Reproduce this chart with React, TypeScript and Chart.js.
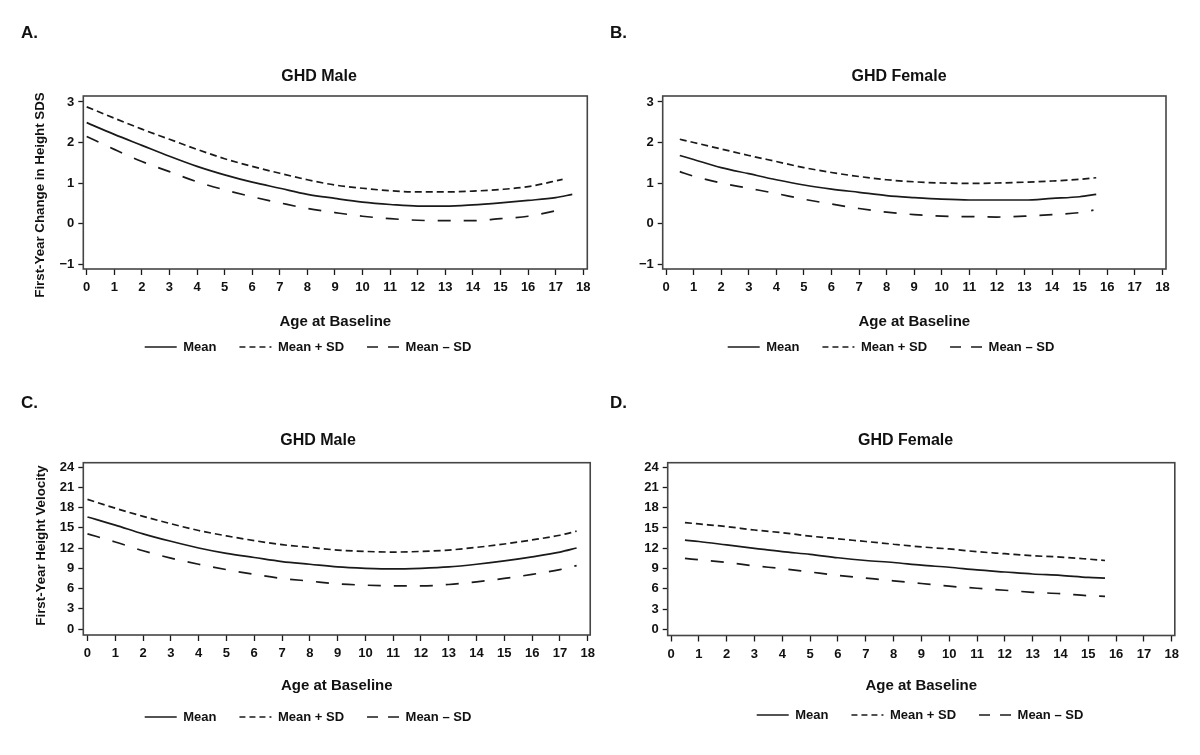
import React, { useEffect, useRef } from "react";
import { Chart, registerables } from "chart.js";

Chart.register(...registerables);

const FONT_FAMILY = '"Liberation Sans", Arial, Helvetica, sans-serif';
const INK = "#1a1a1a";
const TEXT = "#111111";
const FRAME = "#454545";

// ---- shared axis ticks / labels ----
const AGE_TICKS = [0, 1, 2, 3, 4, 5, 6, 7, 8, 9, 10, 11, 12, 13, 14, 15, 16, 17, 18];
const SDS_TICKS = [-1, 0, 1, 2, 3];
const VELOCITY_TICKS = [0, 3, 6, 9, 12, 15, 18, 21, 24];
const SERIES_LABELS = ["Mean", "Mean + SD", "Mean \u2013 SD"];
const X_TITLE = "Age at Baseline";
const Y_TITLE_SDS = "First-Year Change in Height SDS";
const Y_TITLE_VELOCITY = "First-Year Height Velocity";

// ---- A. GHD Male, change in height SDS ----
const A_MEAN_AGE = [0, 1, 2, 3, 4, 5, 6, 7, 8, 9, 10, 11, 12, 13, 14, 15, 16, 17, 17.6];
const A_MEAN = [2.49, 2.2, 1.93, 1.66, 1.41, 1.2, 1.02, 0.87, 0.72, 0.62, 0.53, 0.47, 0.43, 0.43, 0.46, 0.51, 0.57, 0.64, 0.72];
const A_PLUS_AGE = [0, 1, 2, 3, 4, 5, 6, 7, 8, 9, 10, 11, 12, 13, 14, 15, 16, 17.25];
const A_PLUS = [2.88, 2.6, 2.33, 2.08, 1.83, 1.6, 1.41, 1.24, 1.08, 0.95, 0.87, 0.81, 0.78, 0.78, 0.8, 0.84, 0.91, 1.09];
const A_MINUS_AGE = [0, 1, 2, 3, 4, 5, 6, 7, 8, 9, 10, 11, 12, 13, 14, 15, 16, 17.1];
const A_MINUS = [2.15, 1.83, 1.53, 1.28, 1.03, 0.83, 0.66, 0.51, 0.37, 0.27, 0.18, 0.12, 0.08, 0.07, 0.07, 0.12, 0.18, 0.33];

// ---- B. GHD Female, change in height SDS ----
const B_MEAN_AGE = [0.5, 1, 2, 3, 4, 5, 6, 7, 8, 9, 10, 11, 12, 13, 14, 15, 15.6];
const B_MEAN = [1.68, 1.58, 1.38, 1.23, 1.08, 0.95, 0.85, 0.77, 0.69, 0.64, 0.6, 0.58, 0.58, 0.58, 0.62, 0.66, 0.72];
const B_PLUS_AGE = [0.5, 1, 2, 3, 4, 5, 6, 7, 8, 9, 10, 11, 12, 13, 14, 15, 15.6];
const B_PLUS = [2.08, 2.0, 1.84, 1.68, 1.53, 1.38, 1.26, 1.16, 1.08, 1.03, 1.0, 0.99, 1.0, 1.02, 1.05, 1.09, 1.13];
const B_MINUS_AGE = [0.5, 1, 2, 3, 4, 5, 6, 7, 8, 9, 10, 11, 12, 13, 14, 15, 15.5];
const B_MINUS = [1.28, 1.17, 1.0, 0.87, 0.74, 0.6, 0.48, 0.37, 0.28, 0.22, 0.18, 0.17, 0.16, 0.18, 0.22, 0.27, 0.33];

// ---- C. GHD Male, height velocity ----
const C_AGE = [0, 1, 2, 3, 4, 5, 6, 7, 8, 9, 10, 11, 12, 13, 14, 15, 16, 17, 17.6];
const C_MEAN = [16.6, 15.4, 14.1, 13.0, 12.0, 11.2, 10.6, 10.0, 9.6, 9.2, 9.0, 8.9, 9.0, 9.2, 9.6, 10.1, 10.7, 11.4, 12.0];
const C_PLUS = [19.2, 17.9, 16.7, 15.6, 14.6, 13.8, 13.1, 12.5, 12.1, 11.7, 11.5, 11.4, 11.5, 11.7, 12.1, 12.6, 13.2, 13.9, 14.5];
const C_MINUS = [14.1, 12.9, 11.6, 10.5, 9.6, 8.8, 8.1, 7.5, 7.1, 6.7, 6.5, 6.4, 6.4, 6.6, 7.0, 7.5, 8.1, 8.8, 9.4];

// ---- D. GHD Female, height velocity ----
const D_AGE = [0.5, 1, 2, 3, 4, 5, 6, 7, 8, 9, 10, 11, 12, 13, 14, 15, 15.6];
const D_MEAN = [13.2, 13.0, 12.5, 12.0, 11.5, 11.1, 10.6, 10.2, 9.9, 9.5, 9.2, 8.8, 8.5, 8.2, 8.0, 7.7, 7.6];
const D_PLUS = [15.8, 15.6, 15.2, 14.7, 14.3, 13.8, 13.4, 13.0, 12.6, 12.2, 11.9, 11.5, 11.2, 10.9, 10.7, 10.4, 10.2];
const D_MINUS = [10.5, 10.3, 9.9, 9.4, 9.0, 8.5, 8.0, 7.6, 7.2, 6.8, 6.4, 6.1, 5.8, 5.5, 5.3, 5.0, 4.9];

// ---- styles ----
const LINE_DASH = [[], [7, 4], [13, 13]];
const LEGEND_DASH = [[], [6, 4], [11, 10]];
const LEGEND_PAD = 23;
const LEGEND_FONT = 13;

type Panel = {
  key: string;
  letter: string;
  title: string;
  yTitle: string | null;
  yTicks: number[];
  yMin: number;
  yMax: number;
  xMin: number;
  xMax: number;
  series: [number[], number[]][];
  frame: { left: number; top: number; width: number; height: number };
  yAxisWidth: number;
  padRight: number;
  padBottom: number;
  xAxisHeight: number;
  titlePad: { top: number; bottom: number };
  yTitlePos: { x: number; y: number };
  titleX: number;
  legendX: number;
  legendY: number;
  letterPos: { left: number; top: number };
};

const PANELS: Panel[] = [
  {
    key: "A", letter: "A.", title: "GHD Male", yTitle: Y_TITLE_SDS,
    yTicks: SDS_TICKS, yMin: -1.123, yMax: 3.148, xMin: -0.123, xMax: 18.145,
    series: [[A_MEAN_AGE, A_MEAN], [A_PLUS_AGE, A_PLUS], [A_MINUS_AGE, A_MINUS]],
    frame: { left: 0, top: 0, width: 600, height: 378 },
    yAxisWidth: 83.3, padRight: 12.7, padBottom: 3, xAxisHeight: 60,
    titlePad: { top: 67.4, bottom: 9.4 }, yTitlePos: { x: 40, y: 195 },
    titleX: 319, legendX: 308, legendY: 347, letterPos: { left: 21, top: 23 },
  },
  {
    key: "B", letter: "B.", title: "GHD Female", yTitle: null,
    yTicks: SDS_TICKS, yMin: -1.123, yMax: 3.148, xMin: -0.12, xMax: 18.13,
    series: [[B_MEAN_AGE, B_MEAN], [B_PLUS_AGE, B_PLUS], [B_MINUS_AGE, B_MINUS]],
    frame: { left: 600, top: 0, width: 600, height: 378 },
    yAxisWidth: 62.7, padRight: 34, padBottom: 3, xAxisHeight: 60,
    titlePad: { top: 67.4, bottom: 9.4 }, yTitlePos: { x: 0, y: 0 },
    titleX: 299, legendX: 291, legendY: 347, letterPos: { left: 610, top: 23 },
  },
  {
    key: "C", letter: "C.", title: "GHD Male", yTitle: Y_TITLE_VELOCITY,
    yTicks: VELOCITY_TICKS, yMin: -0.88, yMax: 24.64, xMin: -0.15, xMax: 18.09,
    series: [[C_AGE, C_MEAN], [C_AGE, C_PLUS], [C_AGE, C_MINUS]],
    frame: { left: 0, top: 378, width: 600, height: 377 },
    yAxisWidth: 83.3, padRight: 9.3, padBottom: 16, xAxisHeight: 58,
    titlePad: { top: 53.4, bottom: 12.1 }, yTitlePos: { x: 41, y: 167.5 },
    titleX: 318, legendX: 308, legendY: 339, letterPos: { left: 21, top: 393 },
  },
  {
    key: "D", letter: "D.", title: "GHD Female", yTitle: null,
    yTicks: VELOCITY_TICKS, yMin: -0.88, yMax: 24.64, xMin: -0.12, xMax: 18.11,
    series: [[D_AGE, D_MEAN], [D_AGE, D_PLUS], [D_AGE, D_MINUS]],
    frame: { left: 600, top: 378, width: 600, height: 377 },
    yAxisWidth: 67.7, padRight: 25.2, padBottom: 16, xAxisHeight: 57.5,
    titlePad: { top: 53.4, bottom: 12.1 }, yTitlePos: { x: 0, y: 0 },
    titleX: 305.6, legendX: 320, legendY: 337, letterPos: { left: 610, top: 393 },
  },
];

const placementPlugin = {
  id: "placement",
  afterLayout(chart: any, _args: any, opts: any) {
    const t = chart.titleBlock;
    if (t && typeof opts.titleX === "number") {
      const w = t.right - t.left;
      t.left = opts.titleX - w / 2;
      t.right = t.left + w;
    }
    const l = chart.legend;
    if (l && typeof opts.legendX === "number") {
      const w = l.right - l.left;
      const h = l.bottom - l.top;
      l.left = opts.legendX - w / 2;
      l.right = l.left + w;
      l.top = opts.legendY - LEGEND_PAD - LEGEND_FONT / 2;
      l.bottom = l.top + h;
    }
  },
  afterDraw(chart: any, _args: any, opts: any) {
    const { ctx, chartArea } = chart;
    ctx.save();
    ctx.strokeStyle = FRAME;
    ctx.lineWidth = 1.6;
    ctx.setLineDash([]);
    ctx.strokeRect(chartArea.left, chartArea.top, chartArea.right - chartArea.left, chartArea.bottom - chartArea.top);
    ctx.restore();
    if (opts.yTitle) {
      ctx.save();
      ctx.translate(opts.yTitleX, opts.yTitleY);
      ctx.rotate(-Math.PI / 2);
      ctx.font = `bold 13.3px ${FONT_FAMILY}`;
      ctx.fillStyle = TEXT;
      ctx.textAlign = "center";
      ctx.textBaseline = "middle";
      ctx.fillText(opts.yTitle, 0, 0);
      ctx.restore();
    }
  },
};

const fmtTick = (v: number) => (v < 0 ? "\u2212" + Math.abs(v) : String(v));

function PanelChart({ p }: { p: Panel }) {
  const ref = useRef<HTMLCanvasElement>(null);
  useEffect(() => {
    if (!ref.current) return;
    const chart = new Chart(ref.current, {
      type: "line",
      data: {
        datasets: p.series.map(([ages, vals], i) => ({
          label: SERIES_LABELS[i],
          data: ages.map((a, k) => ({ x: a, y: vals[k] })),
          borderColor: INK,
          backgroundColor: INK,
          borderWidth: 1.7,
          borderDash: LINE_DASH[i],
          pointRadius: 0,
          fill: false,
          cubicInterpolationMode: "monotone",
        })),
      },
      options: {
        responsive: false,
        animation: false,
        events: [],
        layout: { padding: { left: 0, right: p.padRight, top: 0, bottom: p.padBottom } },
        plugins: {
          tooltip: { enabled: false },
          title: {
            display: true,
            text: p.title,
            color: TEXT,
            font: { family: FONT_FAMILY, size: 16, weight: "bold" },
            padding: p.titlePad,
          },
          legend: {
            display: true,
            position: "bottom",
            labels: {
              usePointStyle: true,
              pointStyleWidth: 32,
              padding: LEGEND_PAD,
              color: TEXT,
              font: { family: FONT_FAMILY, size: LEGEND_FONT, weight: "bold" },
              generateLabels: (c: any) =>
                c.data.datasets.map((ds: any, i: number) => ({
                  text: ds.label,
                  fillStyle: "rgba(0,0,0,0)",
                  strokeStyle: INK,
                  lineWidth: 1.6,
                  lineDash: LEGEND_DASH[i],
                  pointStyle: "line",
                  hidden: false,
                  datasetIndex: i,
                  fontColor: TEXT,
                })),
            },
          },
          placement: {
            titleX: p.titleX,
            legendX: p.legendX,
            legendY: p.legendY,
            yTitle: p.yTitle,
            yTitleX: p.yTitlePos.x,
            yTitleY: p.yTitlePos.y,
          },
        } as any,
        scales: {
          x: {
            type: "linear",
            min: p.xMin,
            max: p.xMax,
            afterBuildTicks: (s: any) => {
              s.ticks = AGE_TICKS.map((v) => ({ value: v }));
            },
            afterFit: (s: any) => {
              s.height = p.xAxisHeight;
            },
            grid: { drawOnChartArea: false, drawTicks: true, tickLength: 6, tickColor: INK, tickWidth: 1.3 },
            border: { display: false },
            ticks: {
              color: TEXT,
              font: { family: FONT_FAMILY, size: 13, weight: "bold" },
              padding: 5,
              maxRotation: 0,
              autoSkip: false,
              callback: (v: any) => fmtTick(Number(v)),
            },
            title: {
              display: true,
              text: X_TITLE,
              color: TEXT,
              font: { family: FONT_FAMILY, size: 15, weight: "bold" },
              padding: { top: 0, bottom: -2 },
            },
          },
          y: {
            type: "linear",
            min: p.yMin,
            max: p.yMax,
            afterBuildTicks: (s: any) => {
              s.ticks = p.yTicks.map((v) => ({ value: v }));
            },
            afterFit: (s: any) => {
              s.width = p.yAxisWidth;
            },
            grid: { drawOnChartArea: false, drawTicks: true, tickLength: 5, tickColor: INK, tickWidth: 1.3 },
            border: { display: false },
            ticks: {
              color: TEXT,
              font: { family: FONT_FAMILY, size: 13, weight: "bold" },
              padding: 4,
              autoSkip: false,
              callback: (v: any) => fmtTick(Number(v)),
            },
            title: { display: false },
          },
        },
      } as any,
      plugins: [placementPlugin],
    });
    return () => chart.destroy();
  }, [p]);

  return (
    <canvas
      ref={ref}
      width={p.frame.width}
      height={p.frame.height}
      style={{
        position: "absolute",
        left: p.frame.left,
        top: p.frame.top,
        width: p.frame.width,
        height: p.frame.height,
      }}
    />
  );
}

export default function App() {
  return (
    <div style={{ position: "relative", width: 1200, height: 755, background: "#fff", overflow: "hidden" }}>
      <style>{`html,body{margin:0;padding:0;background:#fff;}`}</style>
      {PANELS.map((p) => (
        <PanelChart key={p.key} p={p} />
      ))}
      {PANELS.map((p) => (
        <div
          key={"L" + p.key}
          style={{
            position: "absolute",
            left: p.letterPos.left,
            top: p.letterPos.top,
            fontFamily: FONT_FAMILY,
            fontWeight: "bold",
            fontSize: 17,
            lineHeight: "20px",
            color: TEXT,
          }}
        >
          {p.letter}
        </div>
      ))}
    </div>
  );
}
